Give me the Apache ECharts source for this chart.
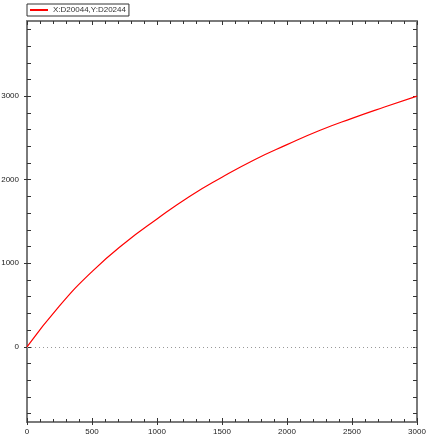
<!DOCTYPE html>
<html>
<head>
<meta charset="utf-8">
<script src="https://cdn.jsdelivr.net/npm/echarts@6/dist/echarts.min.js"></script>
<style>html,body{margin:0;padding:0;background:#fff}#c{width:432px;height:440px}</style>
</head>
<body>
<div id="c"></div>
<script>
var seriesName = 'X:D20044,Y:D20244';
var xValues = [0, 250, 500, 750, 1000, 1250, 1500, 1750, 2000, 2250, 2500, 2750, 3000];
var yValues = [0, 490, 900, 1240, 1530, 1800, 2030, 2240, 2420, 2590, 2735, 2870, 3000];
var xTicks = [0, 500, 1000, 1500, 2000, 2500, 3000];
var yTicks = [0, 1000, 2000, 3000];
var yMinorTicks = [-800, -600, -400, -200, 0, 200, 400, 600, 800, 1000, 1200, 1400, 1600, 1800, 2000, 2200, 2400, 2600, 2800, 3000, 3200, 3400, 3600, 3800];

var data = xValues.map(function (x, i) { return [x, yValues[i]]; });
var axisColor = '#7a7a7a';
var labelStyle = { fontSize: 8, color: '#222', fontFamily: 'Liberation Sans, Arial, sans-serif', formatter: function (v) { return String(v); } };

function xAxisCfg(pos, show) {
  return {
    type: 'value', position: pos, min: 0, max: 3000, interval: 500,
    axisLine: { show: show.line, onZero: false, lineStyle: { color: axisColor, width: 2 } },
    axisTick: { show: show.tick, inside: show.inside, length: show.tickLen || 4, lineStyle: { color: '#333', width: 1 } },
    minorTick: { show: show.minor, splitNumber: 5, length: 3, lineStyle: { color: '#333', width: 1 } },
    axisLabel: show.label ? Object.assign({ margin: 6, customValues: xTicks }, labelStyle) : { show: false },
    splitLine: { show: false }
  };
}
function yAxisCfg(pos, show) {
  return {
    type: 'value', position: pos, min: -900, max: 3900,
    axisLine: { show: show.line, onZero: false, lineStyle: { color: axisColor, width: 2 } },
    axisTick: { show: show.tick, inside: show.inside, length: show.tickLen || 4, customValues: show.ticks, lineStyle: { color: '#333', width: 1 } },
    minorTick: { show: false },
    axisLabel: show.label ? Object.assign({ margin: 8, customValues: yTicks }, labelStyle) : { show: false },
    splitLine: { show: false }
  };
}

var chart = echarts.init(document.getElementById('c'), null, { renderer: 'canvas' });
chart.setOption({
  animation: false,
  backgroundColor: '#fff',
  grid: { left: 27, right: 15, top: 21, bottom: 18, containLabel: false, outerBoundsMode: 'none' },
  legend: {
    left: 27, top: 4, orient: 'horizontal',
    data: [{ name: seriesName, icon: 'rect' }],
    itemWidth: 18, itemHeight: 2, itemGap: 4,
    padding: [2, 3, 2, 3],
    borderColor: '#333', borderWidth: 1, borderRadius: 0,
    textStyle: { fontSize: 8, color: '#333', fontFamily: 'Liberation Sans, Arial, sans-serif', padding: [0, 0, 0, 0] }
  },
  xAxis: [
    xAxisCfg('bottom', { line: true, tick: true, inside: true, minor: true, label: true }),
    xAxisCfg('top', { line: true, tick: true, inside: true, minor: true, label: false }),
    xAxisCfg('bottom', { line: false, tick: true, inside: false, minor: false, label: false, tickLen: 3 })
  ],
  yAxis: [
    yAxisCfg('left', { line: true, tick: true, inside: true, label: true, ticks: yMinorTicks }),
    yAxisCfg('right', { line: true, tick: true, inside: true, label: false, ticks: yMinorTicks }),
    yAxisCfg('left', { line: false, tick: true, inside: false, label: false, tickLen: 3, ticks: yTicks })
  ],
  series: [{
    name: seriesName, type: 'line', data: data, smooth: 0.5, showSymbol: false,
    xAxisIndex: 0, yAxisIndex: 0,
    lineStyle: { color: '#ff0000', width: 1.2 }, itemStyle: { color: '#ff0000' },
    markLine: {
      silent: true, symbol: ['none', 'none'], label: { show: false },
      lineStyle: { color: '#999', type: [1, 3], width: 1 },
      data: [{ yAxis: 0 }]
    }
  }]
});
</script>
</body>
</html>
